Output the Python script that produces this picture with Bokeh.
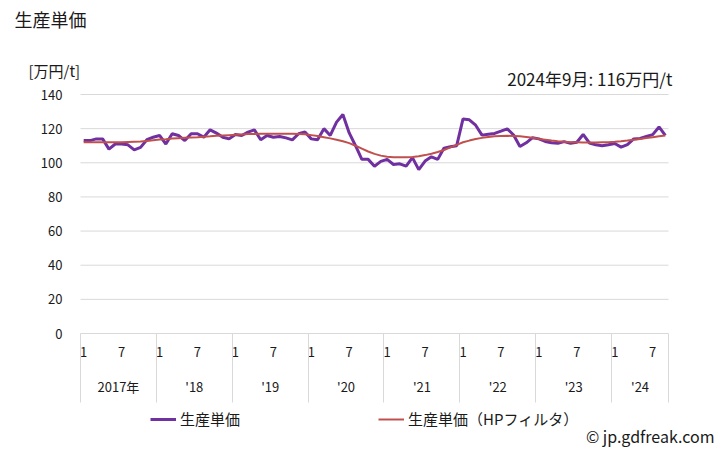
from bokeh.plotting import figure
from bokeh.models import FixedTicker, LinearAxis, Label, Legend, LegendItem, Range1d
from bokeh.embed import file_html
from bokeh.resources import INLINE

FONT = "Noto Sans CJK JP"
TXT = "#1a1a1a"
GRID = "#d9d9d9"

years = ["2017年", "'18", "'19", "'20", "'21", "'22", "'23", "'24"]
months_per_year = [12, 12, 12, 12, 12, 12, 12, 9]
month_tick_months = [1, 7]
y_ticks = [0, 20, 40, 60, 80, 100, 120, 140]

# 生産単価 [万円/t], monthly 2017-01 .. 2024-09
prod = [
    113, 113, 114, 114, 108, 111, 111, 110.5, 107.6, 109, 113.5, 115,          # 2017
    116, 111, 117, 116, 113, 117, 117, 115, 119.3, 117.4, 115, 114,            # 2018
    116.6, 116, 118, 119.3, 113.5, 116, 115, 115.4, 114.6, 113.4, 117, 118,    # 2019
    114, 113.5, 120, 116, 123.8, 128.3, 117.5, 110, 102, 102, 98, 100.8,       # 2020
    102, 99, 99.4, 98, 103, 96, 101, 103.5, 102, 108.6, 109.4, 110,            # 2021
    125.7, 125.2, 122, 116.2, 116.7, 117.2, 118.5, 119.9, 116.3, 109.5, 111.7, 114.7,  # 2022
    114, 112.5, 111.7, 111.4, 112.4, 111.4, 112, 116.6, 111.6, 110.5, 110, 110.6,      # 2023
    111.3, 109.2, 110.7, 114, 114.3, 115.4, 116.5, 121, 116,                   # 2024
]

# 生産単価（HPフィルタ）
hp = [
    112.0, 112.0, 112.0, 112.0, 112.0, 112.1, 112.1, 112.2, 112.3,
    112.4, 112.8, 113.2, 113.6, 113.8, 114.2, 114.4,
    114.6, 114.8, 115.0, 115.3, 115.5, 115.8, 116.0, 116.2, 116.4, 116.6, 116.8, 116.9, 117.0, 117.0, 117.0,
    117.0, 117.0, 117.0, 116.9, 116.7, 116.2, 115.7, 115.0, 114.3, 113.5, 112.6, 111.5, 110.0, 108.3, 106.6,
    105.2, 104.2, 103.6, 103.3, 103.2, 103.2, 103.4, 103.8, 104.5, 105.3,
    106.3, 107.5, 109.0, 110.5, 112.0, 113.0, 113.9, 114.6, 115.1, 115.5,
    115.7, 115.8, 115.7, 115.5, 115.1, 114.6, 114.0, 113.5, 113.0, 112.6,
    112.3, 112.1, 112.0, 111.9, 111.9, 111.9, 112.0, 112.1, 112.3, 112.6,
    113.0, 113.5, 114.0, 114.5, 115.0, 115.5, 116.0,
]

n = len(prod)
x = list(range(n))

# tick positions derived from the calendar structure
month_ticks, month_labels = [], {}
year_centers, year_labels = [], {}
boundaries = [-0.5]
start = 0
for yl, cnt in zip(years, months_per_year):
    for m in month_tick_months:
        if m <= cnt:
            t = start + m - 1
            month_ticks.append(t)
            month_labels[t] = str(m)
    c = start + (cnt - 1) / 2.0
    year_centers.append(c)
    year_labels[c] = yl
    start += cnt
    boundaries.append(start - 0.5)

# canvas geometry (pixels): plot area 80..668 x 94..333
W, H = 728, 450
PL, PR, PT, PB = 80, 668, 94, 333
xs = (PR - PL) / n
x0 = -0.5 - PL / xs
x1 = n - 0.5 + (W - PR) / xs
ys = (PB - PT) / 140.0
y0 = -(H - PB) / ys
y1 = 140 + PT / ys

p = figure(width=W, height=H, output_backend="svg", toolbar_location=None,
           x_range=Range1d(x0, x1), y_range=Range1d(y0, y1),
           min_border=0, min_border_left=0, min_border_right=0,
           min_border_top=0, min_border_bottom=0)
p.title.visible = False
p.outline_line_color = None
p.background_fill_color = "white"
p.border_fill_color = "white"
p.xgrid.visible = False
p.ygrid.visible = False

# horizontal grid lines limited to the plot area
p.segment(x0=[-0.5] * len(y_ticks), x1=[n - 0.5] * len(y_ticks),
          y0=y_ticks, y1=y_ticks, line_color=GRID, line_width=1)


def style_axis(ax, standoff):
    ax.axis_line_color = None
    ax.major_tick_line_color = None
    ax.minor_tick_line_color = None
    ax.major_tick_out = 0
    ax.major_tick_in = 0
    ax.minor_tick_out = 0
    ax.minor_tick_in = 0
    ax.major_label_standoff = standoff
    ax.major_label_text_font = FONT
    ax.major_label_text_font_size = "13px"
    ax.major_label_text_color = TXT


# y axis
ya = p.yaxis[0]
ya.fixed_location = -0.5
ya.ticker = FixedTicker(ticks=y_ticks, minor_ticks=[])
style_axis(ya, 18)

# month axis
mx = p.xaxis[0]
mx.fixed_location = 0
mx.ticker = FixedTicker(ticks=month_ticks, minor_ticks=[])
mx.major_label_overrides = month_labels
style_axis(mx, 13)

# year axis
yx = LinearAxis(ticker=FixedTicker(ticks=year_centers, minor_ticks=[]),
                major_label_overrides=year_labels, fixed_location=0)
style_axis(yx, 43)
p.add_layout(yx, "below")

# year separator axis (ticks only)
sx = LinearAxis(ticker=FixedTicker(ticks=boundaries, minor_ticks=[]), fixed_location=0)
style_axis(sx, 0)
sx.major_tick_line_color = GRID
sx.major_tick_out = 69
sx.major_label_text_color = None
p.add_layout(sx, "below")

r1 = p.line(x, prod, line_color="#7030A0", line_width=3)
r2 = p.line(x, hp, line_color="#C0504D", line_width=2)

legend = Legend(items=[LegendItem(label="生産単価", renderers=[r1]),
                       LegendItem(label="生産単価（HPフィルタ）", renderers=[r2])],
                orientation="horizontal", location=(150, H - 429), padding=0, spacing=138,
                glyph_width=26, glyph_height=20, label_standoff=4, margin=0,
                border_line_color=None, background_fill_alpha=0,
                label_text_font=FONT, label_text_font_size="15px",
                label_text_color=TXT)
p.add_layout(legend, "center")


def sy(y):
    return H - y


p.add_layout(Label(x=14, y=sy(18), x_units="screen", y_units="screen", text="生産単価",
                   text_font=FONT, text_font_size="18px", text_baseline="middle",
                   text_align="left", text_color=TXT))
p.add_layout(Label(x=28, y=sy(70), x_units="screen", y_units="screen", text="[万円/t]",
                   text_font=FONT, text_font_size="15px", text_baseline="middle",
                   text_align="left", text_color=TXT))
p.add_layout(Label(x=672, y=sy(78), x_units="screen", y_units="screen",
                   text="2024年9月: 116万円/t",
                   text_font=FONT, text_font_size="17px", text_baseline="middle",
                   text_align="right", text_color=TXT))
p.add_layout(Label(x=714, y=sy(435), x_units="screen", y_units="screen",
                   text="© jp.gdfreak.com",
                   text_font=FONT, text_font_size="16px", text_baseline="middle",
                   text_align="right", text_color=TXT))

open("out.html", "w").write(file_html(p, INLINE))
